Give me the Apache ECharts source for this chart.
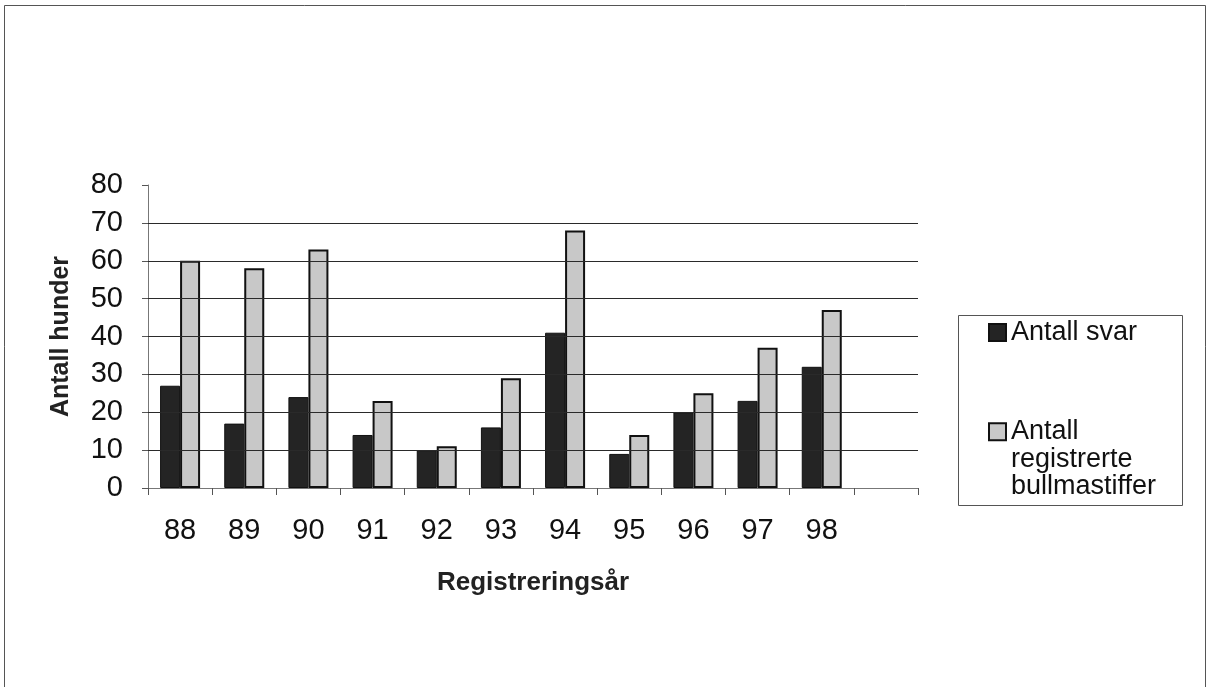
<!DOCTYPE html>
<html>
<head>
<meta charset="utf-8">
<script src="https://cdn.jsdelivr.net/npm/echarts@6/dist/echarts.min.js"></script>
<style>
html,body{margin:0;padding:0;background:#fff;}
#c{width:1210px;height:687px;}
</style>
</head>
<body>
<div id="c"></div>
<script>
var categories = ['88','89','90','91','92','93','94','95','96','97','98',''];
var antallSvar = [27, 17, 24, 14, 10, 16, 41, 9, 20, 23, 32];
var antallRegistrerte = [60, 58, 63, 23, 11, 29, 68, 14, 25, 37, 47];
var gridLines = [10, 20, 30, 40, 50, 60, 70];
var seriesNames = ['Antall svar', 'Antall registrerte bullmastiffer'];
var legendLines = ['Antall', 'registrerte', 'bullmastiffer'];

var chart = echarts.init(document.getElementById('c'));
var font = 'Liberation Sans, Arial, sans-serif';
chart.setOption({
  animation: false,
  backgroundColor: '#fff',
  graphic: [
    {type:'rect', shape:{x:4.5,y:5.5,width:1201,height:700}, style:{fill:'none',stroke:'#555',lineWidth:1}, silent:true, z:0},
    {type:'rect', shape:{x:958.5,y:315.5,width:224,height:190}, style:{fill:'none',stroke:'#555',lineWidth:1}, silent:true, z:0}
  ],
  grid: {left:148, right:292, top:185, bottom:199, containLabel:false},
  legend: [
    {data:[seriesNames[0]], left:983, top:314, orient:'vertical', itemWidth:17, itemHeight:17, icon:'rect',
     textStyle:{fontFamily:font, fontSize:27, lineHeight:27, color:'#111'}, itemGap:0},
    {data:[seriesNames[1]], left:983, top:358, orient:'vertical', itemWidth:17, itemHeight:17, icon:'rect',
     formatter: function(n){ return '\n\n' + legendLines.join('\n'); },
     textStyle:{fontFamily:font, fontSize:27, color:'#111', lineHeight:27.5}, itemGap:0}
  ],
  xAxis: {
    type:'category', data:categories,
    axisLine:{lineStyle:{color:'#777',width:1}},
    axisTick:{show:true, length:7, lineStyle:{color:'#555'}},
    axisLabel:{fontFamily:font, fontSize:29, color:'#111', margin:28},
    name:'Registreringsår', nameLocation:'middle', nameGap:82,
    nameTextStyle:{fontFamily:font, fontSize:26, fontWeight:'bold', color:'#222'}
  },
  yAxis: {
    type:'value', min:0, max:80, interval:10,
    axisLine:{show:true, lineStyle:{color:'#777',width:1}},
    axisTick:{show:true, length:6, lineStyle:{color:'#555'}},
    axisLabel:{fontFamily:font, fontSize:29, color:'#111', margin:25},
    splitLine:{show:false},
    name:'Antall hunder', nameLocation:'middle', nameGap:74,
    nameTextStyle:{fontFamily:font, fontSize:25, fontWeight:'bold', color:'#222'}
  },
  series: [
    {name:seriesNames[0], type:'bar', data:antallSvar, barWidth:20, barGap:'0%',
     itemStyle:{color:'#242424', borderColor:'#111', borderWidth:1},
     markLine:{silent:true, symbol:'none', label:{show:false}, animation:false,
       lineStyle:{color:'#2a2a2a', width:1, type:'solid'},
       data: gridLines.map(function(v){ return {yAxis:v}; })},
     z:3},
    {name:seriesNames[1], type:'bar', data:antallRegistrerte, barWidth:20,
     itemStyle:{color:'#c8c8c8', borderColor:'#111', borderWidth:2},
     z:3}
  ]
});
</script>
</body>
</html>
